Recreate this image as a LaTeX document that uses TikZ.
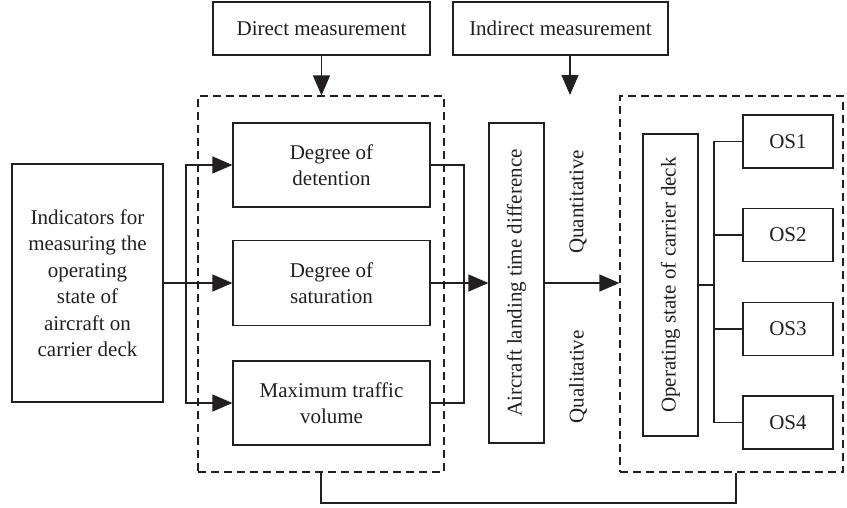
\documentclass[tikz,border=0pt]{standalone}
\usepackage{fontspec}
\setmainfont{Liberation Serif}
\usetikzlibrary{arrows.meta}
\definecolor{ink}{HTML}{231F20}
\begin{document}
\begin{tikzpicture}[x=1pt,y=-1pt,
  box/.style={draw=ink, line width=1.2pt, inner sep=0pt, align=center,
    text=ink, font=\fontsize{21}{26.5}\selectfont},
  lbl/.style={inner sep=0pt, text=ink, font=\fontsize{21}{26.5}\selectfont},
  conn/.style={draw=ink, line width=1.2pt},
  arr/.style={conn, -{Triangle[length=20pt,width=17pt]}},
  frame/.style={draw=ink, line width=1.1pt, dash pattern=on 8pt off 5pt,
    inner sep=0pt}]
\useasboundingbox (0,0) rectangle (847,507);

% input indicators
\node[box, minimum width=151pt, minimum height=238pt] (ind) at (87.5,283)
  {Indicators for\\measuring the\\operating\\state of\\aircraft on\\carrier deck};

% measurement kinds
\node[box, minimum width=217pt, minimum height=53pt] (dir) at (321.5,28.5) {Direct measurement};
\node[box, minimum width=215pt, minimum height=53pt] (indir) at (560.5,28.5) {Indirect measurement};

% dashed groups
\node[frame, minimum width=246pt, minimum height=376pt] (f1) at (321,284) {};
\node[frame, minimum width=223pt, minimum height=376pt] (f2) at (731.5,284) {};

% direct indicators
\node[box, minimum width=197pt, minimum height=84pt] (det) at (331.5,165) {Degree of\\detention};
\node[box, minimum width=197pt, minimum height=85pt] (sat) at (331.5,283) {Degree of\\saturation};
\node[box, minimum width=197pt, minimum height=84pt] (max) at (331.5,403) {Maximum traffic\\volume};

% indirect indicator
\node[box, minimum width=55pt, minimum height=320pt] (air) at (516.5,283)
  {\rotatebox{90}{Aircraft landing time difference}};
\node[lbl, rotate=90] (quant) at (578,202) {Quantitative};
\node[lbl, rotate=90] (qual) at (578,377) {Qualitative};

% operating state
\node[box, minimum width=55pt, minimum height=302pt] (ops) at (670.5,285)
  {\rotatebox{90}{Operating state of carrier deck}};
\node[box, minimum width=90pt, minimum height=53pt] (os1) at (788,141.5) {OS1};
\node[box, minimum width=90pt, minimum height=53pt] (os2) at (788,235) {OS2};
\node[box, minimum width=90pt, minimum height=53pt] (os3) at (788,329) {OS3};
\node[box, minimum width=90pt, minimum height=53pt] (os4) at (788,422.5) {OS4};

% junction points
\coordinate (split) at (186,283);
\coordinate (join) at (464,283);
\coordinate (tree) at (714,285);
\coordinate (qt) at (570,95);
\coordinate (cb1) at (321,503);
\coordinate (cb2) at (736,503);

% connectors
\draw[arr] (dir.south) -- (dir.south |- f1.north);
\draw[arr] (indir.south -| qt) -- (qt);

\draw[conn] (ind.east) -- (split);
\draw[arr] (split) |- (det.west);
\draw[arr] (split) -- (sat.west);
\draw[arr] (split) |- (max.west);

\draw[conn] (det.east) -| (join) |- (max.east);
\draw[arr] (sat.east) -- (air.west);
\draw[arr] (air.east) -- (air.east -| f2.west);

\draw[conn] (ops.east) -- (tree);
\draw[conn] (os1.west) -| (tree) |- (os4.west);
\draw[conn] (os2.west) -- (os2.west -| tree);
\draw[conn] (os3.west) -- (os3.west -| tree);

\draw[conn] (f1.south) -- (cb1) -- (cb2) -- (cb2 |- f2.south);
\end{tikzpicture}
\end{document}
